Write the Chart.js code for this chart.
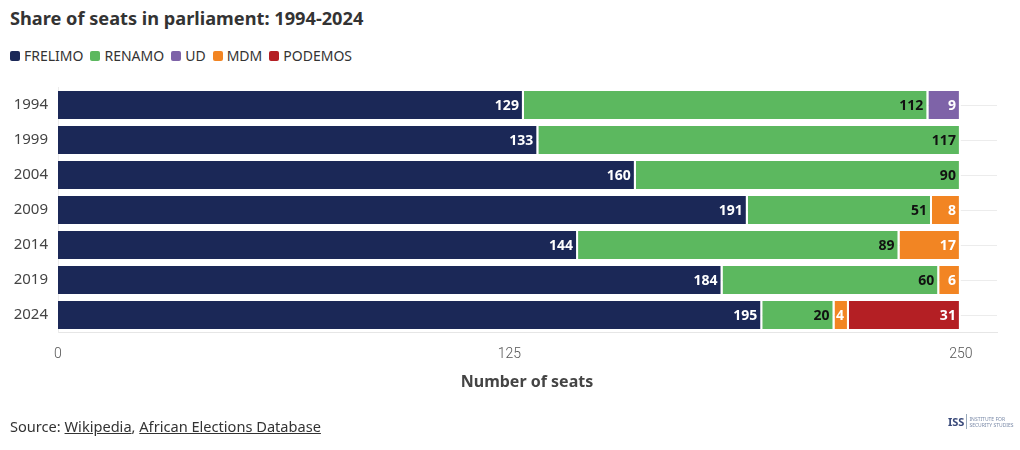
<!DOCTYPE html>
<html>
<head>
<meta charset="utf-8">
<script src="https://cdn.jsdelivr.net/npm/chart.js@4"></script>
<style>
  html,body{margin:0;padding:0;background:#fff;}
  body{width:1020px;height:450px;position:relative;overflow:hidden;font-family:"Noto Sans",sans-serif;color:#333;}
  #title{position:absolute;left:10px;top:6px;font-size:18.2px;font-weight:700;color:#333;}
  #legend{position:absolute;left:10px;top:46px;font-size:14px;color:#333;display:flex;gap:7px;}
  #legend span.item{display:flex;align-items:center;}
  #legend i{display:inline-block;width:10px;height:10px;border-radius:2px;margin-right:4px;}
  #axtitle{position:absolute;left:0;width:1054px;text-align:center;top:370px;font-size:16px;font-weight:700;color:#444;}
  #source{position:absolute;left:10px;top:416px;font-size:14.6px;color:#333;}
  #source u{text-decoration:underline;}
  #logo{position:absolute;left:948px;top:414px;display:flex;align-items:center;color:#5a6a8a;}
  #logo b{font-size:11px;font-weight:700;color:#3a4a7a;border-right:1px solid #9ab;padding-right:2px;margin-right:2px;}
  #logo small{font-size:5px;line-height:6px;color:#7a8aa8;}
  canvas{position:absolute;left:0;top:0;}
</style>
</head>
<body>
<div id="title">Share of seats in parliament: 1994-2024</div>
<div id="legend"></div>
<canvas id="c" width="1020" height="450"></canvas>
<div id="axtitle">Number of seats</div>
<div id="source">Source: <u>Wikipedia</u>, <u>African Elections Database</u></div>
<div id="logo"><b>ISS</b><small>INSTITUTE FOR<br>SECURITY STUDIES</small></div>
<script>
const years = ["1994","1999","2004","2009","2014","2019","2024"];
const parties = ["FRELIMO","RENAMO","UD","MDM","PODEMOS"];
const frelimo = [129,133,160,191,144,184,195];
const renamo  = [112,117,90,51,89,60,20];
const ud      = [9,null,null,null,null,null,null];
const mdm     = [null,null,null,8,17,6,4];
const podemos = [null,null,null,null,null,null,31];
const xTicks = [0,125,250];
const colors = ["#1b2857","#5cb85f","#7e63a8","#f28523","#b41f24"];
const labelColors = ["#ffffff","#111111","#ffffff","#ffffff","#ffffff"];
const seriesValues = [frelimo,renamo,ud,mdm,podemos];

const leg = document.getElementById('legend');
parties.forEach((p,i)=>{
  const s=document.createElement('span');s.className='item';
  s.innerHTML='<i style="background:'+colors[i]+'"></i>'+p;
  leg.appendChild(s);
});

const labelPlugin = {
  id:'barLabels',
  afterDatasetsDraw(chart){
    const ctx=chart.ctx;
    ctx.save();
    ctx.font='700 14px "Noto Sans", sans-serif';
    ctx.textAlign='right';
    ctx.textBaseline='middle';
    chart.data.datasets.forEach((ds,di)=>{
      const meta=chart.getDatasetMeta(di);
      meta.data.forEach((bar,i)=>{
        const v=ds.data[i];
        if(v==null) return;
        ctx.fillStyle=labelColors[di];
        ctx.fillText(String(v), bar.x-5, bar.y+1);
      });
    });
    ctx.restore();
  }
};

new Chart(document.getElementById('c'),{
  type:'bar',
  data:{
    labels:years,
    datasets:parties.map((p,i)=>({
      label:p,
      data:seriesValues[i],
      backgroundColor:colors[i],
      borderColor:'#ffffff',
      borderWidth:{left:0,top:0,bottom:0,right:2},
      borderSkipped:false,
      categoryPercentage:0.8,
      barPercentage:1.0
    }))
  },
  options:{
    indexAxis:'y',
    responsive:false,
    animation:false,
    layout:{padding:{left:10,right:23,top:87.5,bottom:0}},
    plugins:{legend:{display:false},tooltip:{enabled:false},title:{display:false}},
    scales:{
      x:{
        stacked:true,min:0,max:260,
        afterBuildTicks(s){s.ticks=xTicks.map(v=>({value:v}));},
        afterFit(s){s.height=117.5;},
        grid:{display:false},
        border:{display:true,color:'#e6e6e6'},
        ticks:{font:{family:'"Liberation Sans Narrow","Roboto",sans-serif',size:14,weight:'300'},color:'#555',padding:6,maxRotation:0}
      },
      y:{
        stacked:true,
        afterFit(s){s.width=48;},
        grid:{offset:false,color:'#ececec',drawTicks:false},
        border:{display:true,color:'#ececec'},
        ticks:{font:{family:'"Noto Sans",sans-serif',size:15},color:'#444',padding:10}
      }
    }
  },
  plugins:[labelPlugin]
});
</script>
</body>
</html>
